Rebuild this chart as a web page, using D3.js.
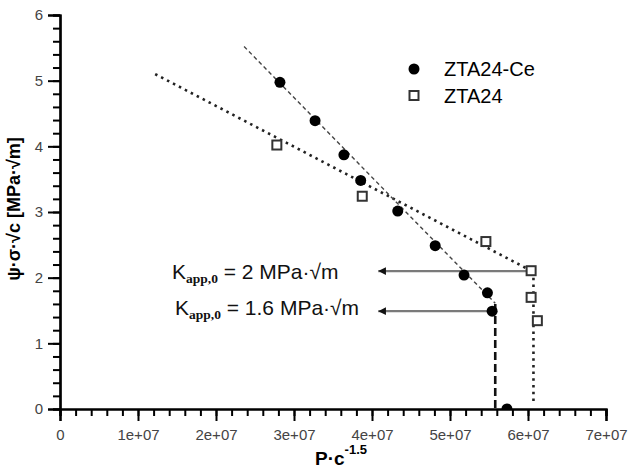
<!DOCTYPE html>
<html>
<head>
<meta charset="utf-8">
<script src="https://cdn.jsdelivr.net/npm/d3@7"></script>
<style>
  body { margin: 0; background: #fff; }
  svg { display: block; }
</style>
</head>
<body>
<div id="chart"></div>
<script>
// ----- data -----
const ceX = [2.82e7, 3.27e7, 3.64e7, 3.855e7, 4.33e7, 4.81e7, 5.18e7, 5.48e7, 5.54e7, 5.73e7];
const ceY = [4.975, 4.39, 3.87, 3.48, 3.015, 2.487, 2.04, 1.77, 1.49, 0];
const ztaX = [2.78e7, 3.875e7, 5.46e7, 6.04e7, 6.04e7, 6.12e7];
const ztaY = [4.02, 3.24, 2.55, 2.106, 1.70, 1.345];

// fitted lines
const ceFitX = [2.36e7, 5.58e7];
const ceFitY = [5.52, 1.61];
const ceDropX = [5.58e7, 5.58e7];
const ceDropY = [1.6, 0];
const ztaFitX = [1.22e7, 6.04e7];
const ztaFitY = [5.10, 2.106];
const ztaDropX = [6.07e7, 6.07e7];
const ztaDropY = [2.1, 0.1];

// arrows: start x, tip x, level
const arrowFrom = [6.04e7, 5.54e7];
const arrowTo = [4.08e7, 4.08e7];
const arrowY = [2.10, 1.49];
const kValues = ["2", "1.6"];

const xTicks = [0, 1e7, 2e7, 3e7, 4e7, 5e7, 6e7, 7e7];
const xTickLabels = ["0", "1e+07", "2e+07", "3e+07", "4e+07", "5e+07", "6e+07", "7e+07"];
const yTicks = [0, 1, 2, 3, 4, 5, 6];

const W = 629, H = 469;
const svg = d3.select("#chart").append("svg")
    .attr("width", W)
    .attr("height", H);

const x = d3.scaleLinear().domain([0, 7e7]).range([60, 606]);
const y = d3.scaleLinear().domain([0, 6]).range([409, 15]);

const line = d3.line().x(d => x(d[0])).y(d => y(d[1]));
const pairs = (xs, ys) => xs.map((v, i) => [v, ys[i]]);

// clip so the last point sits behind the x axis
svg.append("clipPath").attr("id", "plotClip")
  .append("rect")
    .attr("x", 60).attr("y", 0)
    .attr("width", 560).attr("height", 409);

const plot = svg.append("g").attr("clip-path", "url(#plotClip)");

// ZTA24 dotted fit
plot.append("path")
    .datum(pairs(ztaFitX, ztaFitY))
    .attr("fill", "none")
    .attr("stroke", "#222")
    .attr("stroke-width", 2.6)
    .attr("stroke-dasharray", "2.5,4.2")
    .attr("d", line);

plot.append("path")
    .datum(pairs(ztaDropX, ztaDropY))
    .attr("fill", "none")
    .attr("stroke", "#222")
    .attr("stroke-width", 2.6)
    .attr("stroke-dasharray", "2.5,4.2")
    .attr("d", line);

// ZTA24-Ce dashed fit
plot.append("path")
    .datum(pairs(ceFitX, ceFitY))
    .attr("fill", "none")
    .attr("stroke", "#444")
    .attr("stroke-width", 1.4)
    .attr("stroke-dasharray", "4,3")
    .attr("d", line);

plot.append("path")
    .datum(pairs(ceDropX, ceDropY))
    .attr("fill", "none")
    .attr("stroke", "#111")
    .attr("stroke-width", 2.6)
    .attr("stroke-dasharray", "8,4")
    .attr("d", line);

// arrows
svg.append("defs").append("marker")
    .attr("id", "head")
    .attr("viewBox", "0 0 10 10")
    .attr("refX", 10).attr("refY", 5)
    .attr("markerWidth", 3.6).attr("markerHeight", 3.2)
    .attr("markerUnits", "strokeWidth")
    .attr("orient", "auto")
  .append("path")
    .attr("d", "M0,0L10,5L0,10Z")
    .attr("fill", "#111");

arrowY.forEach((lev, i) => {
  plot.append("line")
      .attr("x1", x(arrowFrom[i]))
      .attr("x2", x(arrowTo[i]))
      .attr("y1", y(lev))
      .attr("y2", y(lev))
      .attr("stroke", "#7a7a7a")
      .attr("stroke-width", 2.4)
      .attr("marker-end", "url(#head)");
});

// points
plot.selectAll(".ce")
  .data(pairs(ceX, ceY))
  .join("circle")
    .attr("class", "ce")
    .attr("cx", d => x(d[0]))
    .attr("cy", d => y(d[1]))
    .attr("r", 5.5)
    .attr("fill", "#000");

plot.selectAll(".zta")
  .data(pairs(ztaX, ztaY))
  .join("rect")
    .attr("class", "zta")
    .attr("x", d => x(d[0]) - 4.5)
    .attr("y", d => y(d[1]) - 4.5)
    .attr("width", 9)
    .attr("height", 9)
    .attr("fill", "#fff")
    .attr("stroke", "#333")
    .attr("stroke-width", 2);

// axes
const tickFont = "'Liberation Sans Narrow', 'Arial Narrow', Arial, sans-serif";

const yMinor = svg.append("g")
    .attr("transform", "translate(60,0)")
    .call(d3.axisLeft(y).tickValues(d3.range(0, 6.01, 0.2)).tickSize(7).tickFormat(""));
const yAxis = svg.append("g")
    .attr("transform", "translate(60,0)")
    .call(d3.axisLeft(y).tickValues(yTicks).tickSize(12).tickPadding(5).tickFormat(d3.format("d")));

const xMinor = svg.append("g")
    .attr("transform", "translate(0,409)")
    .call(d3.axisBottom(x).tickValues(d3.range(0, 7.01e7, 2e6)).tickSize(7).tickFormat(""));
const xAxis = svg.append("g")
    .attr("transform", "translate(0,409)")
    .call(d3.axisBottom(x).tickValues(xTicks).tickSize(12).tickPadding(8)
      .tickFormat((d, i) => xTickLabels[i]));

[yMinor, yAxis, xMinor, xAxis].forEach(g => {
  g.selectAll("path.domain").attr("stroke", "#000").attr("stroke-width", 2.2);
  g.selectAll(".tick line").attr("stroke", "#000").attr("stroke-width", 2);
  g.selectAll("text")
    .style("font-family", tickFont)
    .style("font-size", "15px")
    .attr("fill", "#444");
});

// legend
const legend = svg.append("g");
legend.append("circle")
    .attr("cx", 414).attr("cy", 69).attr("r", 5.5).attr("fill", "#000");
legend.append("rect")
    .attr("x", 409.5).attr("y", 91).attr("width", 9).attr("height", 9)
    .attr("fill", "#fff").attr("stroke", "#333").attr("stroke-width", 2);
legend.append("text")
    .attr("x", 444).attr("y", 76)
    .style("font-family", "Arial, 'Liberation Sans', sans-serif")
    .style("font-size", "20px")
    .text("ZTA24-Ce");
legend.append("text")
    .attr("x", 444).attr("y", 103)
    .style("font-family", "Arial, 'Liberation Sans', sans-serif")
    .style("font-size", "20px")
    .text("ZTA24");

// K labels
const kPos = [[172, 279], [175, 315]];
kValues.forEach((k, i) => {
  const t = svg.append("text")
      .attr("x", kPos[i][0]).attr("y", kPos[i][1])
      .style("font-family", "Arial, 'Liberation Sans', sans-serif")
      .style("font-size", "21px")
      .attr("fill", "#111");
  t.append("tspan").text("K");
  t.append("tspan")
      .attr("dy", 4)
      .style("font-family", "'Liberation Serif', 'Times New Roman', serif")
      .style("font-weight", "bold")
      .style("font-size", "13.5px")
      .text("app,0");
  t.append("tspan").attr("dy", -4).text(" = " + k + " MPa\u00b7\u221am");
});

// axis titles
svg.append("text")
    .attr("transform", "translate(20,209) rotate(-90)")
    .attr("text-anchor", "middle")
    .style("font-family", "Arial, 'Liberation Sans', sans-serif")
    .style("font-size", "18px")
    .style("font-weight", "bold")
    .text("\u03c8\u00b7\u03c3\u00b7\u221ac [MPa\u00b7\u221am]");

const xt = svg.append("text")
    .attr("x", 315).attr("y", 465)
    .style("font-family", "Arial, 'Liberation Sans', sans-serif")
    .style("font-size", "19px")
    .style("font-weight", "bold");
xt.append("tspan").text("P\u00b7c");
xt.append("tspan").attr("dy", -11).style("font-size", "13px").text("-1.5");
</script>
</body>
</html>
